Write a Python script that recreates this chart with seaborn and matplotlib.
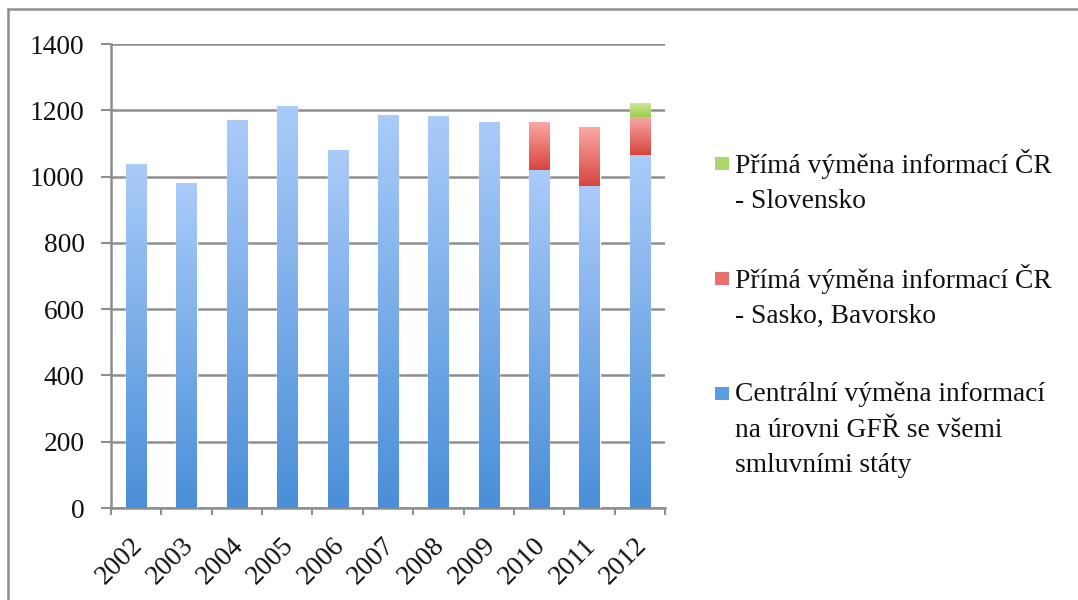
import numpy as np
import pandas as pd
import seaborn as sns
import matplotlib.pyplot as plt
from matplotlib.lines import Line2D
from matplotlib.patches import Rectangle
from matplotlib.colors import LinearSegmentedColormap
from matplotlib.transforms import ScaledTranslation

years = ["2002", "2003", "2004", "2005", "2006", "2007", "2008", "2009", "2010", "2011", "2012"]
central = [1038, 980, 1171, 1214, 1080, 1187, 1184, 1164, 1019, 972, 1065]
sasko_bavorsko = [0, 0, 0, 0, 0, 0, 0, 0, 145, 177, 115]
slovensko = [0, 0, 0, 0, 0, 0, 0, 0, 0, 0, 42]

labels = [
    "Centrální výměna informací\nna úrovni GFŘ se všemi\nsmluvními státy",
    "Přímá výměna informací ČR\n- Sasko, Bavorsko",
    "Přímá výměna informací ČR\n- Slovensko",
]

# (top colour, bottom colour, legend colour)
styles = [
    ("#aacbf9", "#4a8fd8", "#5b9be2"),
    ("#f9aaa6", "#d8443e", "#e8716c"),
    ("#cbe894", "#9ccd50", "#aad66c"),
]

sns.set_theme(style="white")
plt.rcParams["font.family"] = ["Liberation Serif", "DejaVu Serif"]

W, H = 1078, 600
df = pd.DataFrame({"year": years, "central": central,
                   "sasko": sasko_bavorsko, "slovensko": slovensko})

fig = plt.figure(figsize=(W / 100, H / 100), dpi=100)
ax = fig.add_axes([111 / W, 1 - 508 / H, 554 / W, 464 / H])

series = ["central", "sasko", "slovensko"]
bottom = np.zeros(len(years))
groups = []
for i, col in enumerate(series):
    n_before = len(ax.patches)
    sns.barplot(data=df, x="year", y=col, color=styles[i][2],
                width=0.4, errorbar=None, ax=ax, zorder=3)
    new = ax.patches[n_before:]
    for p, b in zip(new, bottom):
        p.set_y(b)
    groups.append(new)
    bottom = bottom + df[col].to_numpy()

# vertical gradient fill inside every bar segment
grad = np.linspace(1, 0, 100).reshape(-1, 1)
for (top_c, bot_c, _), patches in zip(styles, groups):
    cmap = LinearSegmentedColormap.from_list("g", [bot_c, top_c])
    for p in patches:
        h = p.get_height()
        if h <= 0:
            p.set_visible(False)
            continue
        x0, y0, w = p.get_x(), p.get_y(), p.get_width()
        im = ax.imshow(grad, cmap=cmap, extent=[x0, x0 + w, y0, y0 + h],
                       aspect="auto", zorder=4, interpolation="bicubic")
        im.set_clip_path(p)

ax.set_xlim(-0.5, len(years) - 0.5)
ax.set_ylim(0, 1400)
ax.set_yticks(range(0, 1401, 200))
ax.set_xticks(range(len(years)))
ax.set_xticklabels(years)
ax.set_xlabel("")
ax.set_ylabel("")

grid_c = "#8e8e8e"
ax.yaxis.grid(True, color=grid_c, linewidth=1.8, zorder=0)
ax.set_axisbelow(True)
for s in ["top", "right"]:
    ax.spines[s].set_visible(False)
for s in ["left", "bottom"]:
    ax.spines[s].set_color(grid_c)
    ax.spines[s].set_linewidth(1.8)

ax.tick_params(axis="y", which="major", direction="out", length=7, width=1.5,
               color=grid_c, left=True, labelsize=19.8, pad=12, labelcolor="#111111")
ax.tick_params(axis="x", which="major", length=0, labelsize=19.8, pad=18,
               labelcolor="#111111")
ax.set_xticks(np.arange(-0.5, len(years), 1.0), minor=True)
ax.tick_params(axis="x", which="minor", direction="out", length=5, width=1.5,
               color=grid_c, bottom=True)
shift = ScaledTranslation(-6 / 100, 0, fig.dpi_scale_trans)
for lab in ax.get_xticklabels():
    lab.set_rotation(45)
    lab.set_ha("right")
    lab.set_va("top")
    lab.set_rotation_mode("anchor")
    lab.set_transform(lab.get_transform() + shift)

# legend drawn by hand: square swatch next to the first text line
first_baselines = [174, 289, 404]
line_pitch = 34
for (_, _, c), lab, yb in zip(styles[::-1], labels[::-1], first_baselines):
    fig.add_artist(Rectangle((715 / W, 1 - (yb - 4) / H), 14 / W, 13 / H,
                             transform=fig.transFigure, facecolor=c, edgecolor="none"))
    last = yb + lab.count("\n") * line_pitch
    fig.text(735 / W, 1 - last / H, lab, fontsize=19.8, color="#111111",
             va="baseline", ha="left", linespacing=1.55)

# thin frame around the picture (top and left edges)
fig.add_artist(Line2D([8 / W, 1], [1 - 9 / H, 1 - 9 / H],
                      transform=fig.transFigure, color="#8f8f8f", linewidth=1.8))
fig.add_artist(Line2D([8 / W, 8 / W], [0, 1 - 9 / H],
                      transform=fig.transFigure, color="#8f8f8f", linewidth=1.8))

fig.savefig("out.png", dpi=100, facecolor="white")
